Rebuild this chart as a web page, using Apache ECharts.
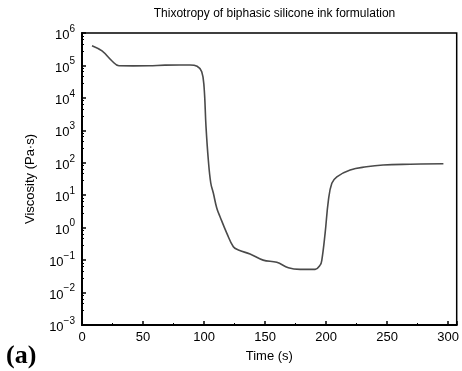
<!DOCTYPE html>
<html>
<head>
<meta charset="utf-8">
<script src="https://cdn.jsdelivr.net/npm/echarts@6/dist/echarts.min.js"></script>
<style>
  html, body { margin: 0; padding: 0; background: #fff; }
  #main { width: 462px; height: 371px; }
</style>
</head>
<body>
<div id="main"></div>
<script>
// time (s)
var times = [8.2, 16.4, 24.6, 30.3, 42, 54.9, 68, 80, 88.5, 94.3, 98.1, 100, 101.6, 103.5, 105.5, 107.6, 110.4, 113.1, 118.6, 124, 128.1, 137.7, 148.4, 159.6, 169.1, 178.7, 191, 195.1, 196.5, 199.2, 201.9, 204.7, 208.8, 219.7, 233, 246.7, 268.9, 296.1]
// viscosity (Pa·s)
var viscosity = [4.06e5, 2.79e5, 1.37e5, 9.8e4, 9.7e4, 9.8e4, 1.02e5, 1.03e5, 1.03e5, 9.4e4, 6.4e4, 2.2e4, 1.3e3, 122, 23.8, 11.7, 4.03, 2.17, 0.68, 0.258, 0.205, 0.154, 0.100, 0.0855, 0.058, 0.052, 0.052, 0.070, 0.10, 0.68, 7.1, 23.3, 37, 60, 75, 85, 90, 93.5]

var chart = echarts.init(document.getElementById('main'))

var option = {
  backgroundColor: '#fff',
  animation: false,
  title: [{
    text: 'Thixotropy of biphasic silicone ink formulation',
    left: 269.5,
    textAlign: 'center',
    top: 3,
    textStyle: { fontFamily: 'Liberation Sans', fontSize: 12, fontWeight: 'normal', color: '#000' }
  }, {
    text: '(a)',
    left: 1,
    top: 338,
    textStyle: { fontFamily: 'Liberation Serif', fontSize: 26, fontWeight: 'bold', color: '#000' }
  }],
  grid: {
    left: 82, right: 5, top: 33, bottom: 46,
    show: true,
    borderColor: '#000',
    borderWidth: 1.5
  },
  xAxis: {
    type: 'value',
    min: 0,
    max: 307,
    interval: 50,
    name: 'Time (s)',
    nameLocation: 'middle',
    nameGap: 25,
    nameTextStyle: { fontFamily: 'Liberation Sans', fontSize: 13, color: '#000' },
    axisLine: { lineStyle: { color: '#000', width: 2 } },
    axisTick: { inside: true, length: 4, lineStyle: { color: '#000', width: 1.5 } },
    minorTick: { show: true, splitNumber: 2, length: 2, lineStyle: { color: '#000', width: 1 } },
    axisLabel: {
      fontFamily: 'Liberation Sans', fontSize: 13, color: '#000', margin: 6,
      formatter: function (v) { return v > 300 ? '' : v }
    },
    splitLine: { show: false }
  },
  yAxis: {
    type: 'log',
    logBase: 10,
    min: 0.001,
    max: 1e6,
    name: 'Viscosity (Pa·s)',
    nameLocation: 'middle',
    nameGap: 45,
    nameTextStyle: { fontFamily: 'Liberation Sans', fontSize: 13, color: '#000' },
    axisLine: { show: true, lineStyle: { color: '#000', width: 2 } },
    axisTick: { inside: true, length: 4, lineStyle: { color: '#000', width: 1.5 } },
    minorTick: { show: true, splitNumber: 5, length: 2, lineStyle: { color: '#000', width: 1 } },
    axisLabel: {
      margin: 7,
      formatter: function (v) {
        var e = Math.round(Math.log10(v))
        return '{b|10}{s|' + String(e).replace('-', '\u2212') + '}'
      },
      rich: {
        b: { fontFamily: 'Liberation Sans', fontSize: 13, color: '#000', verticalAlign: 'bottom', lineHeight: 14 },
        s: { fontFamily: 'Liberation Sans', fontSize: 10, color: '#000', verticalAlign: 'top', padding: [0, 0, 8, 0] }
      }
    },
    splitLine: { show: false }
  },
  series: [{
    type: 'line',
    data: times.map(function (t, i) { return [t, viscosity[i]] }),
    smooth: 0.4,
    showSymbol: false,
    lineStyle: { color: '#4a4a4a', width: 1.6 }
  }]
}

chart.setOption(option)
</script>
</body>
</html>
